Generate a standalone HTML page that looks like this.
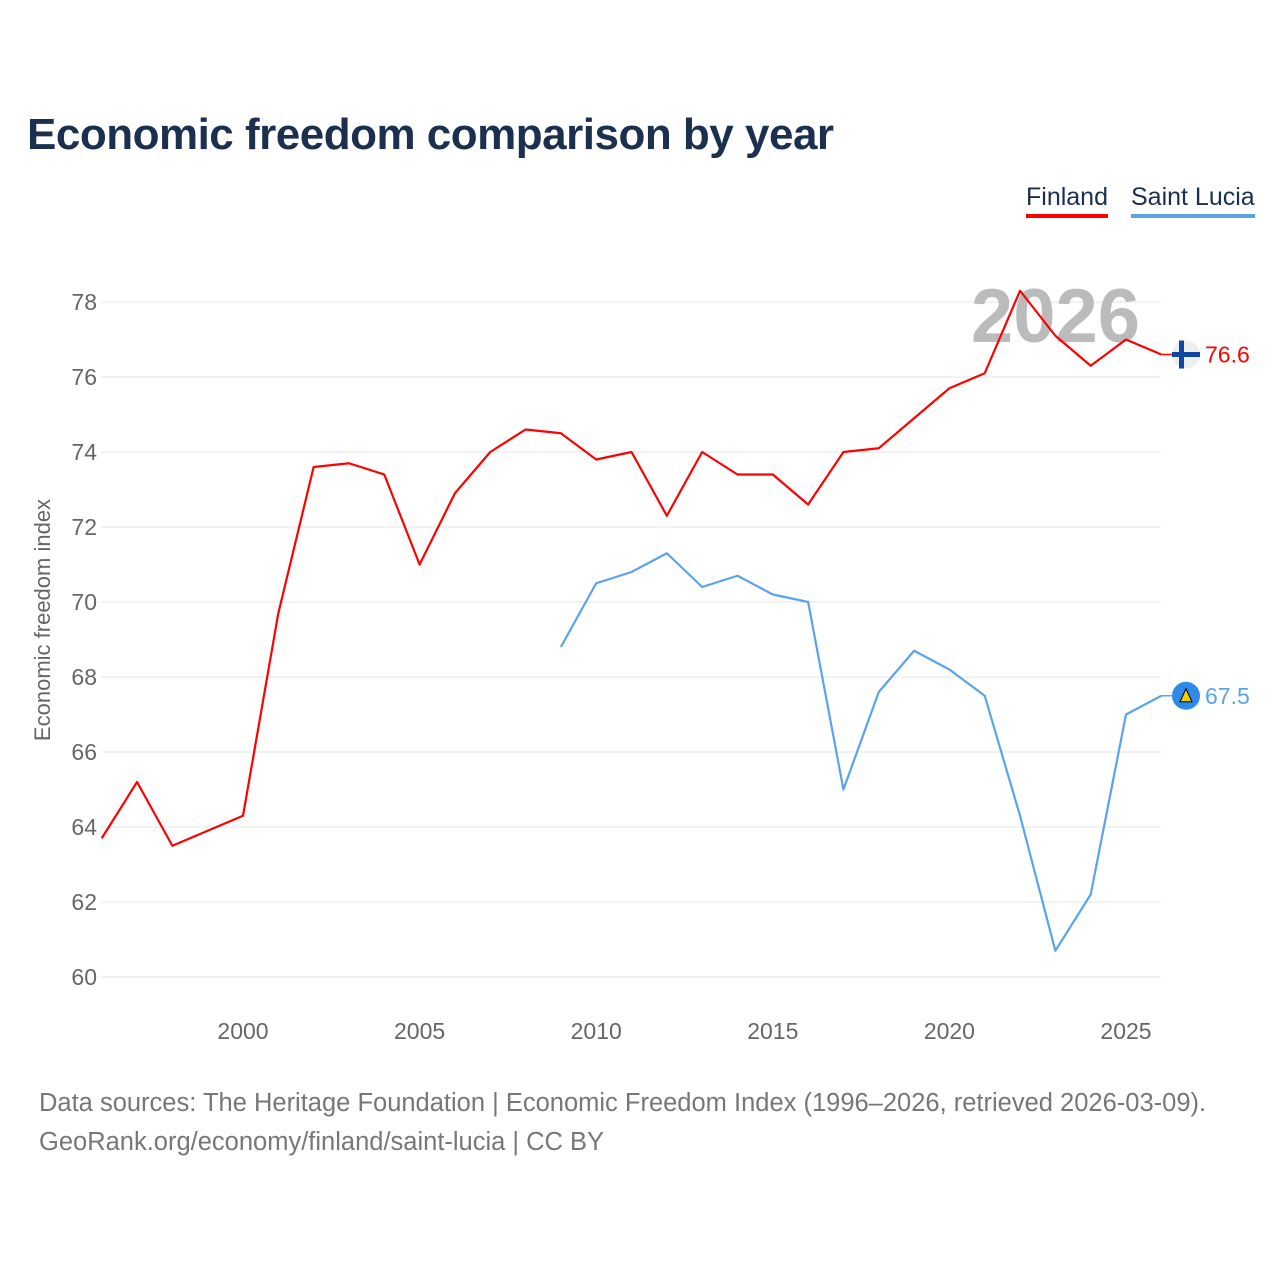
<!DOCTYPE html>
<html>
<head>
<meta charset="utf-8">
<style>
  html,body{margin:0;padding:0;background:#fff;}
  body{width:1280px;height:1280px;position:relative;overflow:hidden;font-family:"Liberation Sans",sans-serif;}
  #title{position:absolute;left:27px;top:110px;font-size:44px;font-weight:bold;color:#1b2f4f;letter-spacing:-0.5px;}
  .legend{position:absolute;top:183px;font-size:25px;color:#1b2f4f;padding-bottom:2px;}
  #foot{position:absolute;left:39px;top:1084px;font-size:25.5px;color:#777;line-height:39px;}
</style>
</head>
<body>
<div id="title">Economic freedom comparison by year</div>
<div class="legend" style="left:1026px;border-bottom:4px solid #ff0000;">Finland</div>
<div class="legend" style="left:1131px;border-bottom:4px solid #5ba3ea;">Saint Lucia</div>
<svg id="chart" width="1280" height="1280" style="position:absolute;left:0;top:0"></svg>
<div id="foot">Data sources: The Heritage Foundation | Economic Freedom Index (1996–2026, retrieved 2026-03-09).<br>GeoRank.org/economy/finland/saint-lucia | CC BY</div>
<script>
const finlandYears = [1996,1997,1998,1999,2000,2001,2002,2003,2004,2005,2006,2007,2008,2009,2010,2011,2012,2013,2014,2015,2016,2017,2018,2019,2020,2021,2022,2023,2024,2025,2026];
const finlandValues = [63.7,65.2,63.5,63.9,64.3,69.7,73.6,73.7,73.4,71.0,72.9,74.0,74.6,74.5,73.8,74.0,72.3,74.0,73.4,73.4,72.6,74.0,74.1,74.9,75.7,76.1,78.3,77.1,76.3,77.0,76.6];
const luciaYears = [2009,2010,2011,2012,2013,2014,2015,2016,2017,2018,2019,2020,2021,2022,2023,2024,2025,2026];
const luciaValues = [68.8,70.5,70.8,71.3,70.4,70.7,70.2,70.0,65.0,67.6,68.7,68.2,67.5,64.3,60.7,62.2,67.0,67.5];
const yTicks = [60,62,64,66,68,70,72,74,76,78];
const xTicks = [2000,2005,2010,2015,2020,2025];

const NS="http://www.w3.org/2000/svg";
const svg=document.getElementById('chart');
function x(yr){return 243+(yr-2000)*(1126-243)/25;}
function y(v){return 977-(v-60)*37.5;}
function mk(tag,attrs){const e=document.createElementNS(NS,tag);for(const k in attrs)e.setAttribute(k,attrs[k]);svg.appendChild(e);return e;}

yTicks.forEach(t=>{
  const g=mk('line',{x1:101,x2:1161,y1:y(t),y2:y(t),stroke:'#e6e6e6','stroke-width':1});
  
  
  const l=mk('text',{x:97,y:y(t)+8,'text-anchor':'end','font-size':23,fill:'#666'});
  l.textContent=t;
  
  
});
xTicks.forEach(t=>{
  const l=mk('text',{x:x(t),y:1039,'text-anchor':'middle','font-size':23,fill:'#666'});
  l.textContent=t;
  
  
});
const yt=mk('text',{x:0,y:0,transform:'translate(50,620) rotate(-90)','text-anchor':'middle','font-size':22,fill:'#666'});
yt.textContent='Economic freedom index';



const yr=mk('text',{x:1140,y:342,'text-anchor':'end','font-size':76,'font-weight':'bold',fill:'#bbb'});
yr.textContent='2026';



function series(years,vals,color,name){
  const p=mk('polyline',{points:years.map((yy,i)=>x(yy)+','+y(vals[i])).join(' '),fill:'none',stroke:color,'stroke-width':2.2,'stroke-linejoin':'round'});
  
  
  const last=vals[vals.length-1];
  const lx=x(years[years.length-1]);
  mk('line',{x1:lx,x2:1172,y1:y(last),y2:y(last),stroke:color,'stroke-width':1.5});
  const t=mk('text',{x:1205,y:y(last)+8,'font-size':23,fill:color});
  t.textContent=last.toFixed(1);
  
  
}
series(finlandYears,finlandValues,'#ff0000','finland');
series(luciaYears,luciaValues,'#5ba3ea','saint-lucia');

const fy=y(finlandValues[finlandValues.length-1]);
const f=mk('circle',{cx:1186,cy:fy,r:14,fill:'#eee'});


mk('rect',{x:1172,y:fy-2.5,width:28,height:5,fill:'#1045a0'});
mk('rect',{x:1179,y:fy-14,width:5,height:28,fill:'#1045a0'});
const ly=y(luciaValues[luciaValues.length-1]);
const s=mk('circle',{cx:1186,cy:ly,r:14,fill:'#2e8ae6'});


mk('polygon',{points:`1186,${ly-7} 1192,${ly+6} 1180,${ly+6}`,fill:'#f4d000',stroke:'#000','stroke-width':1});
</script>
</body>
</html>
